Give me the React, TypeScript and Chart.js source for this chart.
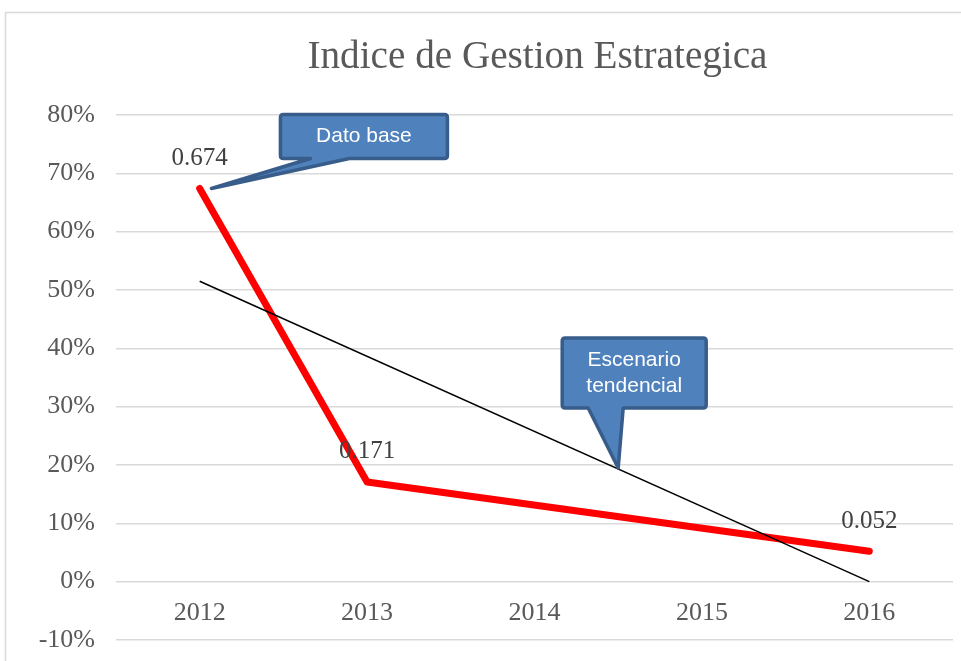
import React, { useEffect, useRef } from "react";
import { Chart, registerables } from "chart.js";

Chart.register(...registerables);

const chartTitle = "Indice de Gestion Estrategica";
const categories = ["2012", "2013", "2014", "2015", "2016"];
const indiceValues: (number | null)[] = [0.674, 0.171, null, null, 0.052];
const indiceLabels = ["0.674", "0.171", "", "", "0.052"];
const trendValues: (number | null)[] = [0.515, null, null, null, 0.0];
const yMin = -0.1;
const yMax = 0.8;
const yStep = 0.1;

// callout annotations: anchored on data coordinates (category index, value)
const calloutTexts = [["Dato base"], ["Escenario", "tendencial"]];
const calloutAnchorIndex = [0.07, 2.5];
const calloutAnchorValue = [0.674, 0.195];

const SERIF = "'Liberation Serif', 'Times New Roman', serif";
const SANS = "'Liberation Sans', Arial, sans-serif";

const decorPlugin = {
  id: "decor",
  beforeDraw(chart: any) {
    const { ctx, chartArea } = chart;
    ctx.save();
    ctx.fillStyle = "#ffffff";
    ctx.fillRect(0, 0, chart.width, chart.height);
    ctx.strokeStyle = "#d9d9d9";
    ctx.lineWidth = 1.5;
    ctx.strokeRect(5.5, 12.5, chart.width + 40, chart.height + 40);
    ctx.fillStyle = "#595959";
    ctx.font = `40px ${SERIF}`;
    ctx.textAlign = "center";
    ctx.textBaseline = "alphabetic";
    const cx = (chartArea.left + chartArea.right) / 2 + 3;
    const w = ctx.measureText(chartTitle).width;
    const target = 460;
    ctx.translate(cx, 68);
    ctx.scale(target / w, 1);
    ctx.fillText(chartTitle, 0, 0);
    ctx.restore();
  },
  afterDatasetsDraw(chart: any) {
    const { ctx } = chart;
    const xs = chart.scales.x;
    const ys = chart.scales.y;
    ctx.save();
    // data labels
    ctx.fillStyle = "#404040";
    ctx.font = `25px ${SERIF}`;
    ctx.textAlign = "center";
    ctx.textBaseline = "middle";
    indiceValues.forEach((v, i) => {
      if (v === null || !indiceLabels[i]) return;
      const px = xs.getPixelForValue(i);
      const py = ys.getPixelForValue(v);
      ctx.fillText(indiceLabels[i], px, py - 30);
    });

    // callouts
    const boxes = [
      { dx: 69, dy: -74, w: 167, h: 44, w0: 30, w1: 69 },
      { dx: -56, dy: -130, w: 144, h: 70, w0: 26, w1: 61 },
    ];
    calloutTexts.forEach((lines, k) => {
      const tx = xs.getPixelForValue(calloutAnchorIndex[k]);
      const ty = ys.getPixelForValue(calloutAnchorValue[k]);
      const b = boxes[k];
      const l = tx + b.dx;
      const t = ty + b.dy;
      const r = l + b.w;
      const bt = t + b.h;
      const rad = 3;
      ctx.beginPath();
      ctx.moveTo(l + rad, t);
      ctx.lineTo(r - rad, t);
      ctx.quadraticCurveTo(r, t, r, t + rad);
      ctx.lineTo(r, bt - rad);
      ctx.quadraticCurveTo(r, bt, r - rad, bt);
      ctx.lineTo(l + b.w1, bt);
      ctx.lineTo(tx, ty);
      ctx.lineTo(l + b.w0, bt);
      ctx.lineTo(l + rad, bt);
      ctx.quadraticCurveTo(l, bt, l, bt - rad);
      ctx.lineTo(l, t + rad);
      ctx.quadraticCurveTo(l, t, l + rad, t);
      ctx.closePath();
      ctx.fillStyle = "#4f81bd";
      ctx.fill();
      ctx.lineWidth = 3.5;
      ctx.lineJoin = "round";
      ctx.strokeStyle = "#385d8a";
      ctx.stroke();
      ctx.fillStyle = "#ffffff";
      ctx.font = `21px ${SANS}`;
      ctx.textAlign = "center";
      ctx.textBaseline = "middle";
      const cy = (t + bt) / 2;
      const lh = 26;
      lines.forEach((s, j) => {
        ctx.fillText(s, (l + r) / 2, cy + (j - (lines.length - 1) / 2) * lh);
      });
    });
    ctx.restore();
  },
};

export default function App() {
  const ref = useRef<HTMLCanvasElement | null>(null);
  useEffect(() => {
    if (!ref.current) return;
    const chart = new Chart(ref.current, {
      type: "line",
      data: {
        labels: categories,
        datasets: [
          {
            label: "Tendencia",
            data: trendValues,
            borderColor: "#000000",
            borderWidth: 1.5,
            pointRadius: 0,
            spanGaps: true,
            order: 0,
          },
          {
            label: "Indice",
            data: indiceValues,
            borderColor: "#ff0000",
            borderWidth: 7,
            borderCapStyle: "round",
            borderJoinStyle: "round",
            pointRadius: 0,
            spanGaps: true,
            order: 1,
          },
        ],
      },
      options: {
        responsive: false,
        animation: false,
        devicePixelRatio: 1,
        layout: { padding: { left: 0, right: 8, top: 115, bottom: 21 } },
        plugins: {
          legend: { display: false },
          title: { display: false },
          tooltip: { enabled: false },
        },
        scales: {
          x: {
            position: { y: 0 } as any,
            offset: true,
            grid: { display: false, drawTicks: false },
            border: { display: false },
            ticks: {
              color: "#595959",
              font: { family: SERIF, size: 26 },
              padding: 16,
            },
          },
          y: {
            min: yMin,
            max: yMax,
            grid: { color: "#d9d9d9", lineWidth: 1.5, drawTicks: false },
            border: { display: false },
            ticks: {
              stepSize: yStep,
              color: "#595959",
              font: { family: SERIF, size: 26 },
              padding: 21,
              callback: (v: any) => `${Math.round(Number(v) * 100)}%`,
            },
            afterFit: (axis: any) => {
              axis.width = 116;
              axis.paddingTop = 0;
              axis.paddingBottom = 0;
            },
          },
        },
      },
      plugins: [decorPlugin],
    });
    return () => chart.destroy();
  }, []);
  return (
    <div style={{ position: "fixed", left: 0, top: 0, width: 961, height: 661, background: "#fff" }}>
      <canvas ref={ref} width={961} height={661} style={{ display: "block" }} />
    </div>
  );
}
